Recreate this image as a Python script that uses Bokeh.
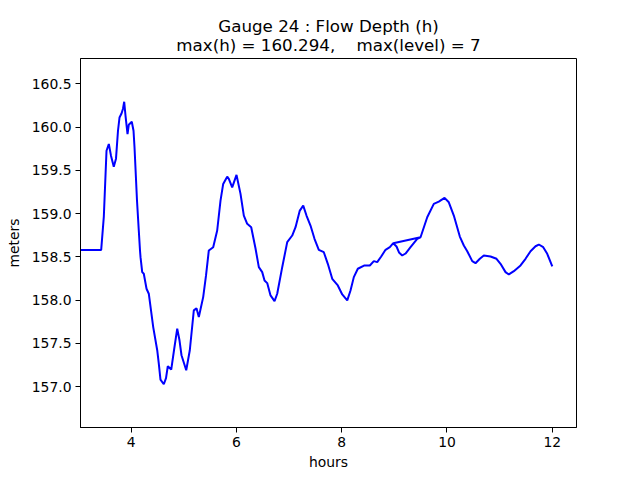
from bokeh.plotting import figure
from bokeh.embed import file_html
from bokeh.resources import INLINE
from bokeh.models import FixedTicker, PrintfTickFormatter, Range1d, Title

# Gauge 24 flow depth time series (hours, meters)
hours = [3.04, 3.433, 3.483, 3.534, 3.578, 3.619, 3.672, 3.714, 3.752, 3.781,
         3.819, 3.847, 3.870, 3.895, 3.933, 3.957, 4.014, 4.047, 4.066, 4.113,
         4.147, 4.170, 4.180, 4.212, 4.242, 4.294, 4.337, 4.421, 4.497, 4.527,
         4.559, 4.622, 4.664, 4.698, 4.763, 4.816, 4.877, 4.920, 4.958, 5.048,
         5.116, 5.192, 5.243, 5.287, 5.370, 5.424, 5.477, 5.560, 5.636, 5.699,
         5.750, 5.826, 5.857, 5.921, 6.003, 6.079, 6.142, 6.206, 6.282, 6.364,
         6.427, 6.491, 6.535, 6.586, 6.649, 6.725, 6.776, 6.871, 6.966, 7.061,
         7.124, 7.205, 7.270, 7.332, 7.408, 7.484, 7.566, 7.661, 7.737, 7.821,
         7.927, 8.011, 8.106, 8.168, 8.231, 8.307, 8.434, 8.535, 8.611, 8.675,
         8.751, 8.833, 8.915, 8.980, 9.042, 9.089, 9.150, 9.213, 9.308, 9.435,
         9.498, 8.980, 9.498, 9.625, 9.750, 9.845, 9.954, 10.035, 10.130, 10.244,
         10.320, 10.385, 10.480, 10.542, 10.624, 10.700, 10.827, 10.941, 11.017, 11.112,
         11.175, 11.270, 11.397, 11.492, 11.587, 11.682, 11.745, 11.828, 11.904, 12.0]
depth = [158.582, 158.582, 158.967, 159.728, 159.806, 159.671, 159.544, 159.636, 159.959, 160.112,
         160.158, 160.213, 160.294, 160.132, 159.921, 160.028, 160.063, 159.959, 159.766, 159.152,
         158.806, 158.575, 158.498, 158.325, 158.306, 158.133, 158.075, 157.690, 157.422, 157.268,
         157.083, 157.029, 157.099, 157.237, 157.199, 157.422, 157.672, 157.537, 157.364, 157.191,
         157.422, 157.883, 157.906, 157.806, 158.036, 158.287, 158.575, 158.613, 158.806, 159.152,
         159.344, 159.428, 159.402, 159.305, 159.448, 159.229, 158.979, 158.883, 158.844, 158.598,
         158.382, 158.325, 158.229, 158.198, 158.056, 157.990, 158.075, 158.382, 158.671, 158.748,
         158.844, 159.036, 159.094, 158.979, 158.863, 158.710, 158.583, 158.555, 158.421, 158.248,
         158.171, 158.067, 157.998, 158.113, 158.267, 158.364, 158.402, 158.402, 158.452, 158.440,
         158.506, 158.583, 158.613, 158.659, 158.621, 158.552, 158.517, 158.540, 158.613, 158.710,
         158.728, 158.659, 158.728, 158.959, 159.114, 159.140, 159.183, 159.132, 158.979, 158.736,
         158.633, 158.567, 158.452, 158.428, 158.479, 158.517, 158.506, 158.479, 158.421, 158.325,
         158.298, 158.336, 158.402, 158.479, 158.567, 158.624, 158.644, 158.613, 158.537, 158.390]

x_ticks = [4, 6, 8, 10, 12]
y_ticks = [157.0, 157.5, 158.0, 158.5, 159.0, 159.5, 160.0, 160.5]
max_h = 160.294
max_level = 7

FONT = "DejaVu Sans"
NB = "\u00a0"

p = figure(width=640, height=480, output_backend="svg", toolbar_location=None,
           x_range=Range1d(3.04, 12.46), y_range=Range1d(157.029 - 0.5, max_h + 0.5),
           title=None)
p.min_border_left = 80
p.min_border_right = 64
p.min_border_top = 58
p.min_border_bottom = 53

line2 = f"max(h) = {max_h:.3f},{NB * 4}max(level) = {max_level}"
line1 = "Gauge 24 : Flow Depth (h)"
t2 = Title(text=line2, align="center", text_font=FONT, text_font_size="16.7px",
           text_font_style="normal", text_color="black", standoff=7)
t1 = Title(text=line1, align="center", text_font=FONT, text_font_size="16.7px",
           text_font_style="normal", text_color="black", standoff=-13)
p.add_layout(t2, "above")
p.add_layout(t1, "above")

p.line(hours, depth, line_color="#0000ff", line_width=2)

p.grid.visible = False
p.outline_line_color = "black"
p.outline_line_width = 1
p.background_fill_color = "white"
p.border_fill_color = "white"

for ax in (p.xaxis, p.yaxis):
    ax.axis_line_color = "black"
    ax.major_tick_line_color = "black"
    ax.major_tick_out = 5
    ax.major_tick_in = 0
    ax.minor_tick_line_color = None
    ax.major_label_text_font = FONT
    ax.major_label_text_font_size = "13.9px"
    ax.major_label_text_color = "black"
    ax.axis_label_text_font = FONT
    ax.axis_label_text_font_size = "13.9px"
    ax.axis_label_text_font_style = "normal"
    ax.axis_label_text_color = "black"
    ax.major_label_standoff = 4

p.xaxis.ticker = FixedTicker(ticks=x_ticks)
p.yaxis.ticker = FixedTicker(ticks=y_ticks)
p.yaxis.formatter = PrintfTickFormatter(format="%.1f")
p.xaxis.axis_label = "hours"
p.yaxis.axis_label = "meters"
p.xaxis.axis_label_standoff = 4
p.yaxis.axis_label_standoff = 7

open("out.html", "w").write(file_html(p, INLINE))
